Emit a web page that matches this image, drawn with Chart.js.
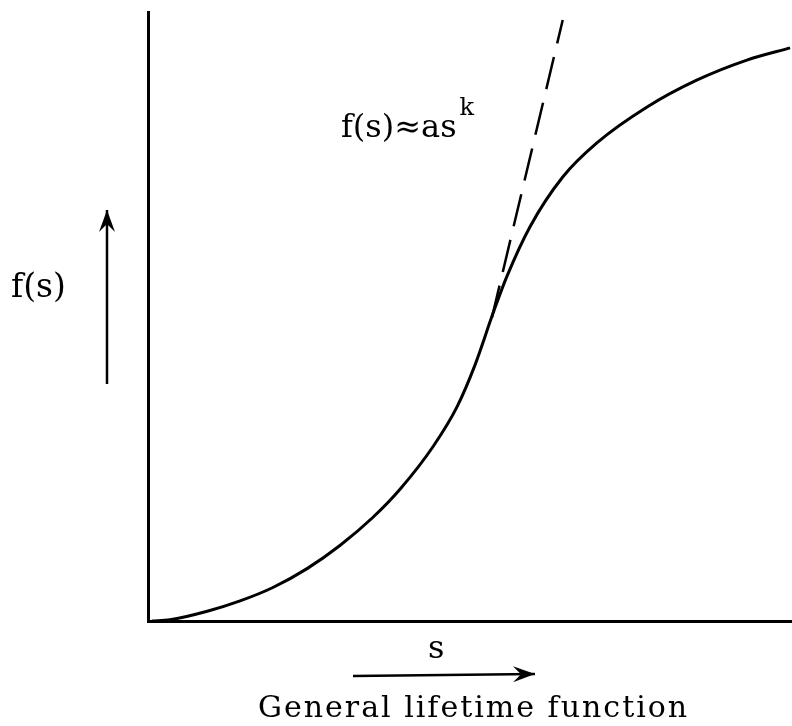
<!DOCTYPE html>
<html>
<head>
<meta charset="utf-8">
<script src="https://cdn.jsdelivr.net/npm/chart.js@4.4.0/dist/chart.umd.min.js"></script>
<style>
    html, body { margin: 0; padding: 0; background: #fff; }
    #wrap { width: 792px; height: 726px; }
</style>
</head>
<body>
<div id="wrap"><canvas id="myChart" width="792" height="726"></canvas></div>
<script>
// curve f(s) (s and f both on 0..10)
const sValues = [0.06, 0.34, 0.92, 1.43, 1.94, 2.47, 2.98, 3.49, 3.91, 4.43, 4.80, 5.08, 5.36, 5.57, 5.93, 6.44, 6.97, 7.75, 8.52, 9.30, 9.97];
const fValues = [0.00, 0.02, 0.16, 0.33, 0.55, 0.86, 1.24, 1.70, 2.16, 2.87, 3.52, 4.21, 5.06, 5.65, 6.47, 7.29, 7.85, 8.44, 8.88, 9.21, 9.41];

// dashed approximation f(s) ~ a s^k near the steep part
const tangentS = [5.34, 6.44];
const tangentF = [4.98, 9.87];

const formulaText = 'f(s)\u2248as';
const formulaSup = 'k';
const yLabel = 'f(s)';
const xLabel = 's';
const caption = 'General lifetime function';

const serif = '"DejaVu Serif", "Liberation Serif", serif';

function arrow(ctx, x1, y1, x2, y2) {
    const ang = Math.atan2(y2 - y1, x2 - x1);
    ctx.beginPath();
    ctx.moveTo(x1, y1);
    ctx.lineTo(x2, y2);
    ctx.stroke();
    // head
    ctx.beginPath();
    ctx.moveTo(x2, y2);
    ctx.lineTo(x2 - 22 * Math.cos(ang) + 8 * Math.sin(ang), y2 - 22 * Math.sin(ang) - 8 * Math.cos(ang));
    ctx.lineTo(x2 - 14 * Math.cos(ang), y2 - 14 * Math.sin(ang));
    ctx.lineTo(x2 - 22 * Math.cos(ang) - 8 * Math.sin(ang), y2 - 22 * Math.sin(ang) + 8 * Math.cos(ang));
    ctx.closePath();
    ctx.fill();
}

const labelsPlugin = {
    id: 'labels',
    afterDraw(chart) {
        const ctx = chart.ctx;
        ctx.save();
        ctx.fillStyle = '#000';
        ctx.strokeStyle = '#000';
        ctx.textBaseline = 'alphabetic';

        // formula
        ctx.font = '32px ' + serif;
        ctx.fillText(formulaText, 341, 137);
        const w = ctx.measureText(formulaText).width;
        ctx.font = '24px ' + serif;
        ctx.fillText(formulaSup, 341 + w + 3, 115);

        // y label and arrow
        ctx.font = '33px ' + serif;
        ctx.fillText(yLabel, 11, 297);
        ctx.lineWidth = 2.5;
        arrow(ctx, 107, 384, 107, 210);

        // x label, arrow and caption
        ctx.font = '32px ' + serif;
        ctx.fillText(xLabel, 428, 658);
        arrow(ctx, 353, 676, 535, 674);
        ctx.font = '30px ' + serif;
        ctx.letterSpacing = '2px';
        ctx.fillText(caption, 258, 717);
        ctx.restore();
    }
};

const ctx = document.getElementById('myChart');

new Chart(ctx, {
    type: 'scatter',
    data: {
        datasets: [{
            label: 'f(s)',
            data: sValues.map((s, i) => ({x: s, y: fValues[i]})),
            showLine: true,
            borderColor: '#000',
            borderWidth: 3,
            pointRadius: 0,
            cubicInterpolationMode: 'monotone',
            clip: false
        }, {
            label: 'a s^k',
            data: tangentS.map((s, i) => ({x: s, y: tangentF[i]})),
            showLine: true,
            borderColor: '#000',
            borderWidth: 2.5,
            borderDash: [33, 14],
            pointRadius: 0,
            clip: false
        }]
    },
    options: {
        responsive: false,
        animation: false,
        layout: {
            padding: {left: 148, top: 12, right: 0, bottom: 105}
        },
        plugins: {
            legend: {display: false},
            tooltip: {enabled: false}
        },
        scales: {
            x: {
                type: 'linear',
                min: 0,
                max: 10,
                grid: {display: false, drawTicks: false},
                ticks: {display: false},
                border: {display: true, color: '#000', width: 3}
            },
            y: {
                type: 'linear',
                min: 0,
                max: 10,
                grid: {display: false, drawTicks: false},
                ticks: {display: false},
                border: {display: true, color: '#000', width: 3}
            }
        }
    },
    plugins: [labelsPlugin]
});
</script>
</body>
</html>
